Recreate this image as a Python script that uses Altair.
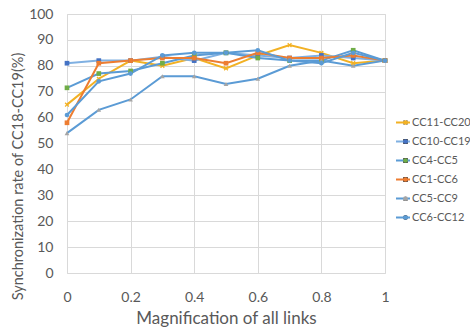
import altair as alt
import pandas as pd

x_vals = [0, 0.1, 0.2, 0.3, 0.4, 0.5, 0.6, 0.7, 0.8, 0.9, 1.0]
series_names = ["CC11-CC20", "CC10-CC19", "CC4-CC5", "CC1-CC6", "CC5-CC9", "CC6-CC12"]
cc11_cc20 = [65, 75, 82, 80, 83, 79, 84, 88, 85, 81, 82]
cc10_cc19 = [81, 82, 82, 83.5, 82, 85, 84, 83, 84, 83, 82]
cc4_cc5 = [71.5, 77, 78, 81, 84, 85, 83, 82, 82, 86, 82]
cc1_cc6 = [58, 81, 82, 83, 83, 81, 85, 83, 83, 84, 82]
cc5_cc9 = [54, 63, 67, 76, 76, 73, 75, 80, 82, 80, 82]
cc6_cc12 = [61, 74, 77, 84, 85, 85, 86, 82, 81, 85, 82]
x_ticks = [0, 0.2, 0.4, 0.6, 0.8, 1.0]
y_ticks = [0, 10, 20, 30, 40, 50, 60, 70, 80, 90, 100]

line_colors = ["#F2B124", "#7FB0E2", "#5B9BD5", "#ED7D31", "#5B9BD5", "#5B9BD5"]
marker_colors = ["#F2B124", "#4472C4", "#70AD47", "#ED7D31", "#A5A5A5", "#5B9BD5"]
x_path = "M-1,-0.6L-0.6,-1L0,-0.4L0.6,-1L1,-0.6L0.4,0L1,0.6L0.6,1L0,0.4L-0.6,1L-1,0.6L-0.4,0Z"
marker_shapes = [x_path, "square", "square", "square", "triangle-up", "circle"]

all_series = [cc11_cc20, cc10_cc19, cc4_cc5, cc1_cc6, cc5_cc9, cc6_cc12]
rows = []
for i, (name, vals) in enumerate(zip(series_names, all_series)):
    for xv, yv in zip(x_vals, vals):
        rows.append({"x": xv, "y": yv, "series": name, "order": i})
df = pd.DataFrame(rows)

FONT = "Lato"
GREY = "#595959"
LEG_X = 328
LEG_Y = 99
ROW_H = 19
LEG_FS = 11

x_axis = alt.Axis(values=x_ticks, tickCount=20, format="~g",
                  title="Magnification of all links", titleFontSize=17,
                  titleFontWeight="normal", titleColor=GREY, titleFont=FONT,
                  titleBaseline="middle", titleY=45,
                  labelFontSize=14, labelColor=GREY, labelFont=FONT,
                  labelPadding=17, ticks=False, tickSize=0, domain=False,
                  grid=True, gridColor="#D9D9D9", labelFlush=False, labelOverlap=False)
y_axis = alt.Axis(values=y_ticks, tickCount=20,
                  title="Synchronization rate of CC18-CC19(%)", titleFontSize=14.5,
                  titleFontWeight="normal", titleColor=GREY, titleFont=FONT,
                  titleBaseline="middle", titleX=-49, titleY=162, titleAngle=-90,
                  labelFontSize=14, labelColor=GREY, labelFont=FONT,
                  labelPadding=14, ticks=False, tickSize=0, domain=False,
                  grid=True, gridColor="#D9D9D9", labelOverlap=False)

x_scale = alt.Scale(domain=[0, 1], nice=False)
y_scale = alt.Scale(domain=[0, 100], nice=False)

lines = alt.Chart(df).mark_line(strokeWidth=2).encode(
    x=alt.X("x:Q", scale=x_scale, axis=x_axis),
    y=alt.Y("y:Q", scale=y_scale, axis=y_axis),
    stroke=alt.Stroke("series:N", scale=alt.Scale(domain=series_names, range=line_colors),
                      legend=alt.Legend(title=None, orient="none", legendX=LEG_X, legendY=LEG_Y,
                                        symbolType="stroke", symbolSize=196, symbolStrokeWidth=2,
                                        labelFontSize=LEG_FS, labelFont=FONT, labelColor=GREY,
                                        labelOffset=1, rowPadding=0, clipHeight=ROW_H,
                                        padding=0)),
    order="order:Q",
    detail="series:N",
)

marker_legend = dict(title=None, orient="none", legendX=LEG_X, legendY=LEG_Y,
                     symbolSize=22, labelFontSize=LEG_FS, labelFont=FONT,
                     labelColor="transparent", labelOffset=1, rowPadding=0,
                     clipHeight=ROW_H, padding=0, symbolOffset=5)

points = alt.Chart(df).mark_point(filled=True, opacity=1, size=22).encode(
    x=alt.X("x:Q", scale=x_scale, axis=x_axis),
    y=alt.Y("y:Q", scale=y_scale, axis=y_axis),
    fill=alt.Fill("series:N", scale=alt.Scale(domain=series_names, range=marker_colors),
                  legend=alt.Legend(**marker_legend)),
    shape=alt.Shape("series:N", scale=alt.Scale(domain=series_names, range=marker_shapes),
                    legend=alt.Legend(**marker_legend)),
)

chart = alt.layer(lines, points).resolve_scale(stroke="independent", fill="independent").properties(
    width=318, height=259,
    autosize=alt.AutoSizeParams(type="none"),
    padding={"left": 67, "top": 14, "right": 85, "bottom": 56},
).configure_view(stroke=None).configure(background="white")

chart.save("out.html", embed_options={"renderer": "svg", "actions": False})
